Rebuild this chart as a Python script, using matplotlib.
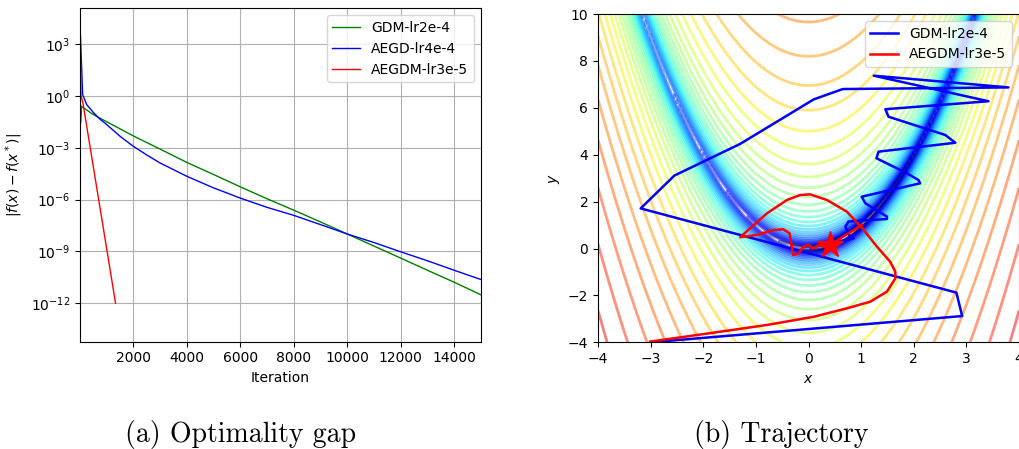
import numpy as np
import matplotlib
matplotlib.use("Agg")
import matplotlib.pyplot as plt
from matplotlib.colors import LogNorm
from matplotlib.ticker import NullLocator

# (a) optimality gap
gdm_iter = [0, 20, 60, 500, 1000, 2000, 3000, 4000, 5000, 6000, 7000,
            8000, 9000, 10000, 11000, 12000, 13000, 14000, 15000]
gdm_gap = [1.7e4, 2.5e-2, 2.5e-1, 8.3e-2, 3.2e-2, 4.8e-3, 8.3e-4, 1.4e-4,
           2.8e-5, 5.4e-6, 1.1e-6, 2.4e-7, 5.0e-8, 1.0e-8, 2.0e-9,
           4.0e-10, 7.9e-11, 1.6e-11, 3.0e-12]

aegd_iter = [0, 100, 250, 500, 750, 1000, 1500, 2000, 2500, 3000, 4000,
             5000, 6000, 7000, 8000, 9000, 10000, 11000, 12000, 13000,
             14000, 15000]
aegd_gap = [1.7e4, 1.2e0, 3.2e-1, 1.1e-1, 4.5e-2, 2.2e-2, 4.6e-3, 1.2e-3,
            3.8e-4, 1.3e-4, 2.2e-5, 4.7e-6, 1.2e-6, 3.5e-7, 1.2e-7, 3.5e-8,
            1.0e-8, 3.2e-9, 9.3e-10, 2.8e-10, 7.9e-11, 2.3e-11]

aegdm_iter = [0, 40, 110, 1330]
aegdm_gap = [1.7e4, 1.0e0, 4.0e-1, 1.0e-12]

# (b) trajectories on the Rosenbrock surface
gdm_x = [-3.0, 2.92, 2.81, -3.19, -2.55, -1.30, 0.10, 0.65, 3.80, 1.24,
         3.42, 1.46, 1.52, 2.60, 2.79, 1.33, 1.29, 1.87, 2.09, 2.12, 1.01,
         1.08, 1.49, 1.49, 0.76, 0.70, 0.78, 0.86, 0.70, 0.47, 0.40]
gdm_y = [-4.0, -2.88, -1.88, 1.71, 3.11, 4.46, 6.36, 6.80, 6.87, 7.37,
         6.28, 5.94, 5.62, 4.84, 4.51, 4.13, 3.85, 3.21, 2.92, 2.78, 2.21,
         1.93, 1.36, 1.26, 1.15, 0.93, 0.55, 0.43, 0.35, 0.29, 0.15]

aegdm_x = [-3.01, -1.81, -0.79, 0.10, 0.73, 1.17, 1.49, 1.65, 1.65, 1.55,
           1.30, 1.05, 0.73, 0.35, 0.03, -0.16, -0.41, -0.79, -1.30, -0.98,
           -0.67, -0.48, -0.36, -0.32, -0.29, -0.19, -0.10, 0.0, 0.10, 0.19,
           0.29, 0.40, 1.01]
aegdm_y = [-3.97, -3.59, -3.26, -2.91, -2.55, -2.27, -1.84, -1.27, -0.99,
           -0.56, 0.08, 0.79, 1.57, 2.07, 2.31, 2.28, 2.07, 1.50, 0.48, 0.58,
           0.79, 0.82, 0.65, 0.08, -0.28, -0.21, 0.08, 0.15, 0.01, 0.15,
           0.08, 0.15, 1.0]

star_x, star_y = 0.40, 0.15

fig = plt.figure(figsize=(10.19, 4.49), dpi=100)

ax1 = fig.add_axes([0.0785, 0.239, 0.3935, 0.7425])
ax1.semilogy(gdm_iter, gdm_gap, color="green", lw=1.0, label="GDM-lr2e-4")
ax1.semilogy(aegd_iter, aegd_gap, color="blue", lw=1.0, label="AEGD-lr4e-4")
ax1.semilogy(aegdm_iter, aegdm_gap, color="red", lw=1.0, label="AEGDM-lr3e-5")
ax1.set_xlim(1, 15000)
ax1.set_ylim(10 ** -14.24, 10 ** 5.08)
ax1.set_yticks([10.0 ** k for k in range(-12, 4, 3)])
ax1.yaxis.set_minor_locator(NullLocator())
ax1.set_xticks(range(2000, 15000, 2000))
ax1.grid(True, color="#b0b0b0", lw=0.8)
ax1.set_xlabel("Iteration")
ax1.set_ylabel(r"$|f(x)-f(x^*)|$")
ax1.legend(loc="upper right")

ax2 = fig.add_axes([0.5869, 0.2376, 0.4131, 0.7312])
xs = np.arange(-4, 4.01, 0.05)
ys = np.arange(-4, 10.01, 0.05)
X, Y = np.meshgrid(xs, ys)
Z = (1 - X) ** 2 + 100 * (Y - X ** 2) ** 2
ax2.contour(X, Y, Z, levels=np.logspace(-0.03, 4.97, 36),
            norm=LogNorm(2, 1e5), cmap="jet", alpha=0.5, linewidths=2.0)
ax2.plot(gdm_x, gdm_y, color="blue", lw=1.8, label="GDM-lr2e-4")
ax2.plot(aegdm_x, aegdm_y, color="red", lw=1.8, label="AEGDM-lr3e-5")
ax2.plot(star_x, star_y, "r*", markersize=20)
ax2.set_xlim(-4, 4)
ax2.set_ylim(-4, 10)
ax2.set_xlabel(r"$x$")
ax2.set_ylabel(r"$y$")
ax2.legend(loc="upper right")

fig.text(0.2365, 0.0163, "(a) Optimality gap", family="cmr10", fontsize=20,
         ha="center", va="baseline")
fig.text(0.767, 0.0163, "(b) Trajectory", family="cmr10", fontsize=20,
         ha="center", va="baseline")

fig.savefig("out.png", dpi=100)
